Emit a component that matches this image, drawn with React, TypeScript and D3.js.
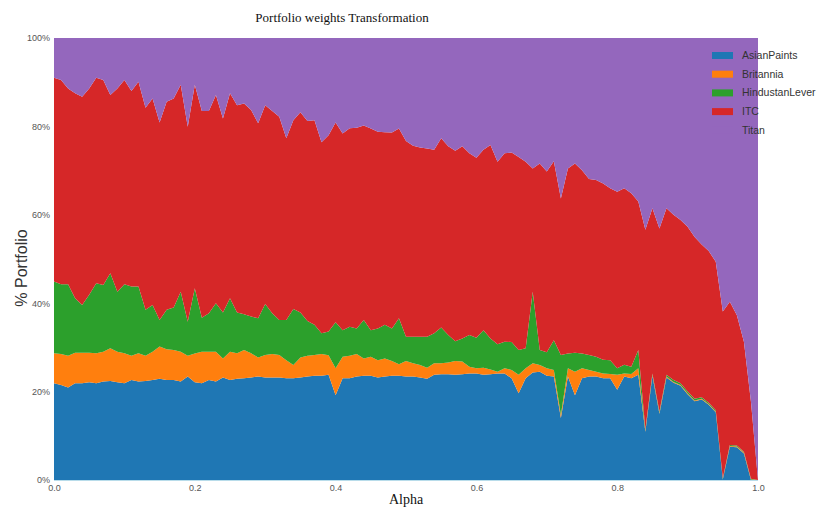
import { useEffect, useRef } from "react";
import * as d3 from "d3";

// alpha grid (x axis), 0.00 .. 1.00
const alphas = d3.range(0, 101).map((i) => i / 100);

// portfolio weights in %
const asianPaints = [
  21.9, 21.5, 20.9, 21.9, 21.9, 22.1, 21.9, 22.3, 22.4, 22.1,
  21.9, 22.6, 22.3, 22.4, 22.6, 22.9, 22.6, 22.6, 22.3, 23.4,
  22.1, 21.9, 22.6, 22.3, 23.2, 22.6, 22.9, 23.0, 23.2, 23.4,
  23.2, 23.2, 23.2, 23.0, 23.0, 23.2, 23.4, 23.6, 23.6, 23.8,
  19.2, 23.0, 23.0, 23.4, 23.6, 23.6, 23.2, 23.4, 23.6, 23.6,
  23.4, 23.4, 23.2, 22.9, 23.8, 23.9, 23.9, 23.8, 23.9, 24.1,
  24.1, 23.8, 23.9, 24.1, 24.1, 23.0, 19.6, 23.0, 24.3, 24.5,
  23.6, 23.4, 14.0, 23.4, 19.2, 23.0, 23.4, 23.4, 23.0, 23.0,
  20.4, 23.4, 23.0, 23.8, 10.9, 23.6, 15.0, 23.2, 22.0, 21.3,
  19.4, 17.8, 18.2, 17.0, 15.3, 0.1, 7.5, 7.4, 6.0, 0.0,
  0.0,
];
const britannia = [
  6.8, 7.0, 7.2, 6.9, 6.9, 6.7, 6.8, 6.7, 7.4, 6.9,
  6.8, 5.5, 6.4, 5.7, 6.4, 7.3, 7.0, 6.8, 6.7, 4.7,
  6.5, 7.1, 6.4, 6.7, 4.3, 6.4, 5.8, 6.4, 5.5, 4.3,
  5.1, 5.3, 5.1, 4.1, 3.0, 4.5, 4.7, 4.7, 4.9, 4.4,
  6.1, 4.9, 5.1, 5.1, 3.9, 4.3, 3.9, 4.1, 3.3, 2.6,
  3.5, 3.0, 2.8, 2.5, 2.6, 2.5, 2.7, 3.1, 2.9, 1.5,
  1.2, 1.6, 1.1, 0.4, 1.2, 1.9, 4.2, 2.3, 2.1, 1.5,
  1.7, 1.5, 0.7, 1.9, 5.3, 2.3, 1.5, 1.1, 1.1, 1.0,
  3.4, 0.7, 1.0, 1.5, 0.3, 0.2, 0.2, 0.2, 0.2, 0.2,
  0.2, 0.2, 0.2, 0.2, 0.2, 0.1, 0.2, 0.2, 0.2, 0.1,
  0.0,
];
const hindustanLever = [
  16.2, 15.8, 16.2, 12.3, 10.8, 13.1, 15.8, 15.1, 17.0, 13.6,
  15.6, 15.7, 15.1, 10.4, 10.6, 6.0, 8.9, 9.6, 13.6, 7.7,
  14.8, 7.7, 8.7, 11.0, 10.4, 12.1, 9.2, 8.1, 8.3, 8.9,
  11.5, 9.2, 7.9, 9.1, 12.7, 10.2, 7.9, 6.8, 4.7, 5.4,
  10.4, 6.0, 6.6, 5.8, 8.7, 6.0, 7.2, 7.6, 7.4, 10.4,
  5.5, 6.0, 6.4, 7.0, 6.8, 8.1, 6.2, 4.5, 5.2, 7.2,
  6.9, 8.5, 7.0, 6.2, 6.0, 6.3, 5.6, 4.5, 16.2, 3.4,
  3.6, 6.7, 13.6, 3.3, 4.3, 3.3, 3.4, 3.4, 3.1, 3.1,
  1.5, 2.0, 1.6, 4.1, 0.3, 0.3, 0.3, 0.4, 0.4, 0.4,
  0.4, 0.4, 0.3, 0.3, 0.3, 0.2, 0.2, 0.2, 0.2, 0.2,
  0.0,
];
const itc = [
  46.1, 46.2, 44.3, 46.4, 47.1, 46.7, 46.5, 46.4, 40.3, 46.0,
  46.2, 44.2, 46.3, 45.7, 46.7, 44.7, 47.1, 47.3, 46.8, 44.1,
  46.0, 46.8, 45.8, 47.1, 43.9, 46.4, 46.9, 47.7, 46.7, 44.1,
  45.0, 45.8, 46.0, 41.1, 42.7, 45.3, 45.2, 46.3, 43.2, 44.4,
  45.2, 44.5, 44.9, 45.4, 44.0, 45.6, 44.5, 43.6, 44.3, 42.9,
  44.3, 43.2, 42.8, 42.6, 41.5, 42.8, 42.7, 43.1, 43.5, 41.1,
  40.7, 40.8, 43.8, 41.3, 42.6, 42.9, 43.7, 42.2, 27.9, 42.2,
  40.9, 40.5, 35.4, 41.9, 42.8, 41.5, 39.8, 40.0, 39.9, 38.9,
  39.9, 39.9, 39.3, 33.6, 45.1, 37.4, 41.4, 37.7, 37.4, 36.9,
  37.3, 36.6, 34.6, 34.3, 33.6, 37.7, 32.4, 29.5, 24.9, 17.4,
  0.0,
];
const titan = [
  9.0, 9.5, 11.4, 12.5, 13.3, 11.4, 9.0, 9.5, 12.9, 11.4,
  9.5, 12.0, 9.9, 15.8, 13.7, 19.1, 14.4, 13.7, 10.6, 20.1,
  10.6, 16.5, 16.5, 12.9, 18.2, 12.5, 15.2, 14.8, 16.3, 19.3,
  15.2, 16.5, 17.8, 22.7, 18.6, 16.8, 18.8, 18.6, 23.6, 22.0,
  19.1, 21.6, 20.4, 20.3, 19.8, 20.5, 21.2, 21.3, 21.4, 20.5,
  23.3, 24.4, 24.8, 25.0, 25.3, 22.7, 24.5, 25.5, 24.5, 26.1,
  27.1, 25.3, 24.2, 28.0, 26.1, 25.9, 26.9, 28.0, 29.5, 28.4,
  30.2, 27.9, 36.3, 29.5, 28.4, 29.9, 31.9, 32.1, 32.9, 34.0,
  34.8, 34.0, 35.1, 37.0, 43.4, 38.5, 43.1, 38.5, 40.0, 41.2,
  42.7, 45.0, 46.7, 48.2, 50.6, 61.9, 59.7, 62.7, 68.7, 82.3,
  100.0,
];

const stocks = ["AsianPaints", "Britannia", "HindustanLever", "ITC", "Titan"];
const colors = ["#1f77b4", "#ff7f0e", "#2ca02c", "#d62728", "#9467bd"];
const yTicks = [0, 0.2, 0.4, 0.6, 0.8, 1.0];
const xTicks = [0, 0.2, 0.4, 0.6, 0.8, 1.0];

const App = () => {
  const ref = useRef<SVGSVGElement>(null);

  useEffect(() => {
    const width = 818;
    const height = 508;
    const margin = { top: 38, right: 60, bottom: 28, left: 54 };

    const svg = d3.select(ref.current);
    svg.selectAll("*").remove();

    const series = [asianPaints, britannia, hindustanLever, itc, titan];
    const rows = alphas.map((a, i) => {
      const r: any = { alpha: a };
      stocks.forEach((s, k) => (r[s] = series[k][i]));
      return r;
    });

    const stacked = d3
      .stack<any>()
      .keys(stocks)
      .offset(d3.stackOffsetExpand)(rows);

    const x = d3
      .scaleLinear()
      .domain([0, 1])
      .range([margin.left, width - margin.right]);
    const y = d3
      .scaleLinear()
      .domain([0, 1])
      .range([height - margin.bottom, margin.top]);

    const area = d3
      .area<any>()
      .x((d) => x(d.data.alpha))
      .y0((d) => y(d[0]))
      .y1((d) => y(d[1]));

    svg
      .append("g")
      .selectAll("path")
      .data(stacked)
      .enter()
      .append("path")
      .attr("d", area)
      .attr("fill", (d, i) => colors[i]);

    // thin light baseline
    svg
      .append("line")
      .attr("x1", x(0))
      .attr("x2", x(1))
      .attr("y1", y(0) + 0.5)
      .attr("y2", y(0) + 0.5)
      .attr("stroke", "#b8dcea")
      .attr("stroke-width", 1);

    // Y axis
    const yAxis = svg
      .append("g")
      .attr("transform", `translate(${margin.left - 3},0)`)
      .call(
        d3
          .axisLeft(y)
          .tickValues(yTicks)
          .tickFormat(d3.format(".0%"))
          .tickSize(0)
          .tickPadding(1)
      );
    yAxis.select(".domain").remove();
    yAxis
      .selectAll("text")
      .attr("font-family", "Liberation Sans, Arial, sans-serif")
      .attr("font-size", 9)
      .attr("fill", "#555");

    // X axis
    const xAxis = svg
      .append("g")
      .attr("transform", `translate(0,${height - margin.bottom})`)
      .call(
        d3
          .axisBottom(x)
          .tickValues(xTicks)
          .tickFormat(d3.format(".1f"))
          .tickSize(0)
          .tickPadding(5)
      );
    xAxis.select(".domain").remove();
    xAxis
      .selectAll("text")
      .attr("font-family", "Liberation Sans, Arial, sans-serif")
      .attr("font-size", 9)
      .attr("fill", "#555");

    // Title and axis labels
    svg
      .append("text")
      .attr("x", 342)
      .attr("y", 22)
      .attr("text-anchor", "middle")
      .attr("font-family", "Liberation Serif, Times New Roman, serif")
      .attr("font-size", 13)
      .attr("fill", "#111")
      .text("Portfolio weights Transformation");

    svg
      .append("text")
      .attr("x", (x(0) + x(1)) / 2)
      .attr("y", 504)
      .attr("text-anchor", "middle")
      .attr("font-family", "Liberation Serif, Times New Roman, serif")
      .attr("font-size", 14)
      .attr("fill", "#111")
      .text("Alpha");

    svg
      .append("text")
      .attr("transform", `translate(27,268) rotate(-90)`)
      .attr("text-anchor", "middle")
      .attr("font-family", "Liberation Sans, Arial, sans-serif")
      .attr("font-size", 16)
      .attr("fill", "#333")
      .text("% Portfolio");

    // Legend
    const legend = svg
      .append("g")
      .attr("transform", "translate(712,52)")
      .selectAll("g")
      .data(stocks)
      .enter()
      .append("g")
      .attr("transform", (d, i) => `translate(0,${i * 18.7})`);
    legend
      .append("rect")
      .attr("width", 21)
      .attr("height", 7)
      .attr("fill", (d, i) => colors[i]);
    legend
      .append("text")
      .attr("x", 30)
      .attr("y", 7)
      .attr("font-family", "Liberation Sans, Arial, sans-serif")
      .attr("font-size", 10.5)
      .attr("fill", "#333")
      .text((d) => d);
  }, []);

  return (
    <svg
      ref={ref}
      width={818}
      height={508}
      style={{ position: "absolute", left: 0, top: 0, background: "#fff" }}
    ></svg>
  );
};

export default App;
